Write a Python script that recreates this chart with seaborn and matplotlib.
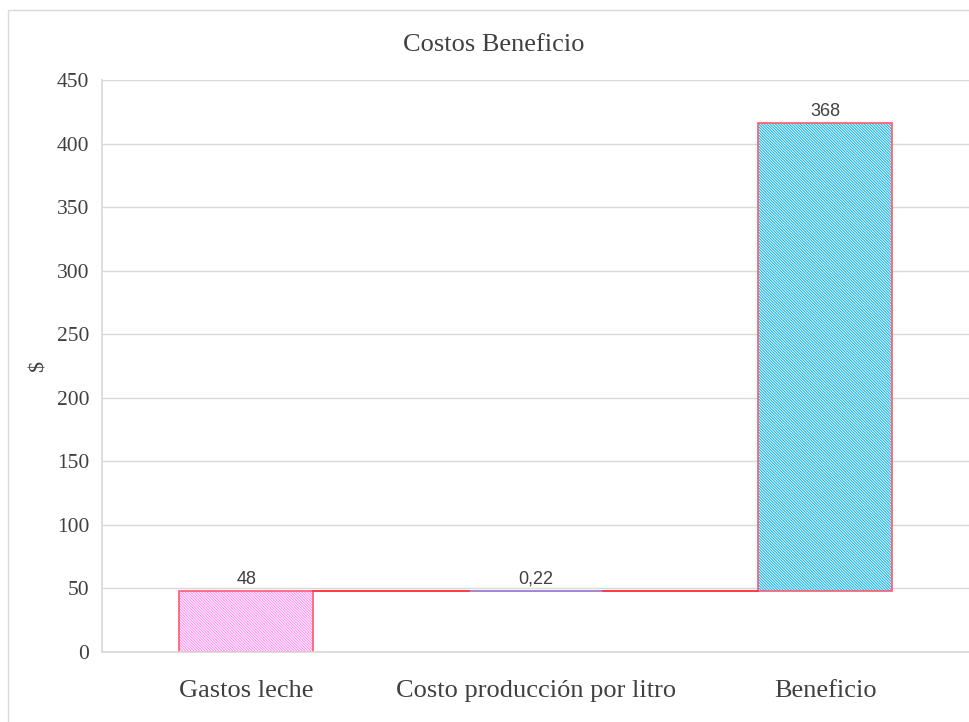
import matplotlib
matplotlib.use('Agg')
import pandas as pd
import matplotlib.pyplot as plt
import seaborn as sns
from matplotlib.patches import Rectangle

# datos del gráfico de cascada
categorias = ['Gastos leche', 'Costo producción por litro', 'Beneficio']
valores = [48, 0.22, 368]
etiquetas = ['48', '0,22', '368']
colores = ['#ff96f4', '#9b6bd6', '#1ab4ea']
bordes = ['#ff5a6a', '#9b6bd6', '#ff5a6a']

# base de cada barra = acumulado anterior
bases = [0]
for v in valores[:-1]:
    bases.append(bases[-1] + v)

df = pd.DataFrame({'categoria': categorias, 'valor': valores, 'base': bases})

sns.set_theme(style='white')
plt.rcParams['font.family'] = ['Liberation Serif', 'DejaVu Serif']
plt.rcParams['hatch.linewidth'] = 0.6

fig = plt.figure(figsize=(9.69, 7.22), dpi=100)
ax = fig.add_axes([0.105, 0.097, 0.896, 0.792])

ancho = 0.463
# relleno con rayado blanco
sns.barplot(data=df, x='categoria', y='valor', hue='categoria', palette=colores,
            saturation=1, width=ancho, legend=False, ax=ax, edgecolor='white',
            linewidth=0, hatch='\\' * 12)
for p, b in zip(ax.patches, df['base']):
    p.set_y(b)

# borde de cada barra
n = len(ax.patches)
sns.barplot(data=df, x='categoria', y='valor', width=ancho, fill=False,
            color='none', linewidth=1.2, legend=False, ax=ax)
for p, b, c in zip(ax.patches[n:], df['base'], bordes):
    p.set_y(b)
    p.set_edgecolor(c)

# conectores
for i in range(len(valores) - 1):
    nivel = bases[i] + valores[i]
    ax.plot([i + ancho / 2, i + 1 - ancho / 2], [nivel, nivel],
            color='#ff3b3b', lw=1.4, zorder=3)

# etiquetas de datos
for i, (b, v, t) in enumerate(zip(bases, valores, etiquetas)):
    ax.text(i, b + v + 2.5, t, ha='center', va='bottom', fontsize=13,
            color='#404040', family=['Liberation Sans', 'DejaVu Sans'])

ax.set_xlim(-0.5, 2.5)
ax.set_ylim(0, 450)
ax.set_yticks(range(0, 451, 50))
ax.yaxis.grid(True, color='#d9d9d9', lw=1)
ax.set_axisbelow(True)
for s in ['top', 'right']:
    ax.spines[s].set_visible(False)
ax.spines['left'].set_color('#d9d9d9')
ax.spines['bottom'].set_color('#d9d9d9')
ax.tick_params(axis='y', labelsize=15.5, colors='#404040', length=0, pad=9)
ax.tick_params(axis='x', labelsize=19, colors='#404040', length=0, pad=20)
ax.set_xlabel('')
ax.set_ylabel('$', fontsize=16, color='#404040', labelpad=6)
fig.text(494 / 969, 1 - 45 / 722, 'Costos Beneficio', fontsize=19,
         color='#404040', ha='center', va='center')

# marco exterior
fig.patches.append(Rectangle((8 / 969, -0.1), 1.2, 1 - 10 / 722 + 0.1,
                             transform=fig.transFigure, fill=False,
                             edgecolor='#d9d9d9', lw=1))

fig.savefig('out.png', dpi=100)
